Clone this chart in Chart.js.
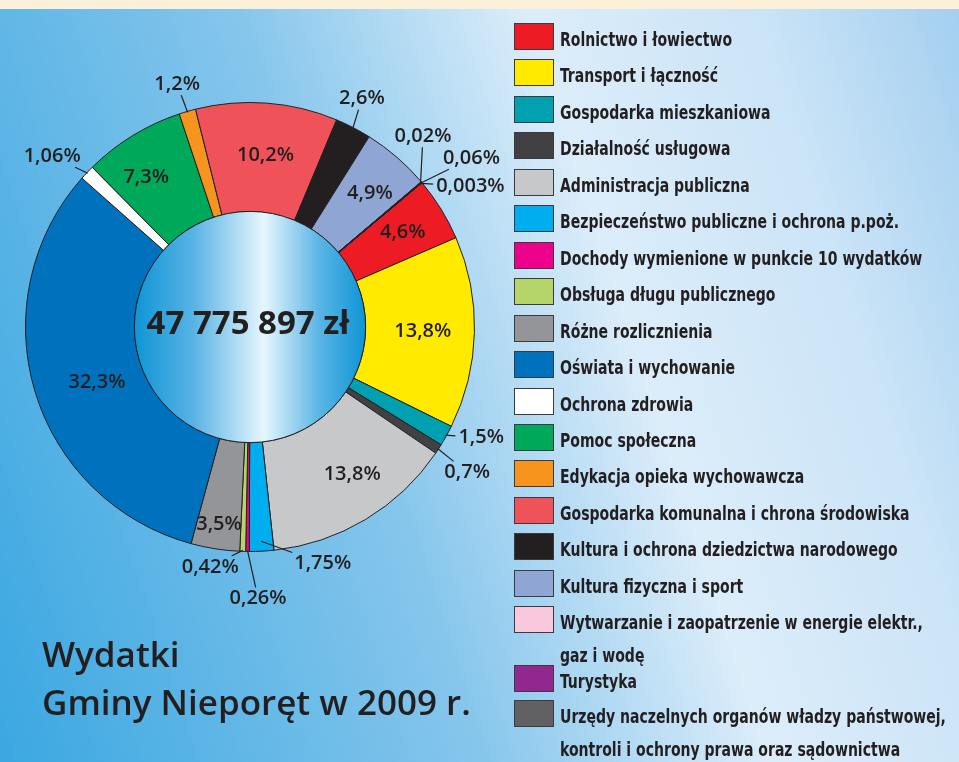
<!DOCTYPE html>
<html lang="pl">
<head>
<meta charset="utf-8">
<script src="https://cdn.jsdelivr.net/npm/chart.js@4.4.1/dist/chart.umd.min.js"></script>
<style>
html, body { margin: 0; padding: 0; }
body {
    width: 959px; height: 762px; overflow: hidden; position: relative;
    background: linear-gradient(72deg, #3aa7e1 0%, #86c6ec 40%, #dcedfa 64%, #cbe4f7 83%, #a3cff0 100%);
}
#band { position: absolute; left: 0; top: 0; width: 959px; height: 9px; background: #fdf0d9; }
#ChartCanvas1 { position: absolute; left: 0; top: 0; }
#legend {
    position: absolute; left: 514px; top: 0;
    font-family: "DejaVu Sans Condensed", "DejaVu Sans", sans-serif;
    font-weight: bold; font-size: 20px; color: #231f20;
}
.item { position: absolute; left: 0; white-space: pre; }
.sw { position: absolute; left: 0; top: 0; width: 38px; height: 25px; border: 1.5px solid #3b3b3d; }
.tx { position: absolute; left: 46px; top: 0; line-height: 33px; transform: scaleX(0.78); transform-origin: 0 0; }
#title {
    position: absolute; left: 42px; top: 630px;
    font-family: "Open Sans", sans-serif; font-weight: 600; font-size: 35px; line-height: 48px; color: #231f20;
}
</style>
</head>
<body>
<div id="band"></div>
<canvas id="ChartCanvas1" width="959" height="762"></canvas>
<div id="legend"></div>
<div id="title">Wydatki<br>Gminy Nieporęt w 2009 r.</div>
<script>
// data (percent of spending)
const categories = [
    'Rolnictwo i łowiectwo',
    'Transport i łączność',
    'Gospodarka mieszkaniowa',
    'Działalność usługowa',
    'Administracja publiczna',
    'Bezpieczeństwo publiczne i ochrona p.poż.',
    'Dochody wymienione w punkcie 10 wydatków',
    'Obsługa długu publicznego',
    'Różne rozlicznienia',
    'Oświata i wychowanie',
    'Ochrona zdrowia',
    'Pomoc społeczna',
    'Edykacja opieka wychowawcza',
    'Gospodarka komunalna i chrona środowiska',
    'Kultura i ochrona dziedzictwa narodowego',
    'Kultura fizyczna i sport',
    'Wytwarzanie i zaopatrzenie w energie elektr.,\ngaz i wodę',
    'Turystyka',
    'Urzędy naczelnych organów władzy państwowej,\nkontroli i ochrony prawa oraz sądownictwa'
];
const shares = [4.6, 13.8, 1.5, 0.7, 13.8, 1.75, 0.26, 0.42, 3.5, 32.3, 1.06, 7.3, 1.2, 10.2, 2.6, 4.9, 0.02, 0.06, 0.003];
const totalAmount = 47775897;

const colors = [
    '#ed1c24', '#ffea00', '#00a0b0', '#414042', '#c7c8ca', '#00aeef', '#ec008c', '#b5d56a', '#939598',
    '#0071bc', '#ffffff', '#00a859', '#f7941d', '#ef5359', '#231f20', '#8fa5d3', '#f9c8dd', '#92278f', '#616163'
];

// label placement: inside (r < 1, fraction of outer radius at slice middle, da = angle nudge)
// or outside (a = degrees clockwise from top, r = fraction of outer radius)
const labelPlace = [
    { r: 0.80 }, { r: 0.77 }, { a: 115.6, r: 1.142 }, { a: 123.8, r: 1.164 }, { r: 0.80, da: -3.7 },
    { a: 162.9, r: 1.102, inset: 10 }, { a: 178.3, r: 1.209 }, { a: 189.4, r: 1.084 }, { r: 0.89 },
    { r: 0.725, da: -3.3 }, { a: 310.8, r: 1.164 }, { r: 0.81, da: -3.3 }, { a: 343.3, r: 1.129 }, { r: 0.77, da: 0.8 },
    { a: 26.1, r: 1.133 }, { r: 0.80, da: 1 }, { a: 42.2, r: 1.147 }, { a: 52.7, r: 1.24 }, { a: 57.5, r: 1.164 }
];

function pct(v) { return String(v).replace('.', ',') + '%'; }
function money(v) { return String(v).replace(/\B(?=(\d{3})+(?!\d))/g, ' ') + ' zł'; }

const ink = '#231f20';

const sliceLabels = {
    id: 'sliceLabels',
    afterDatasetsDraw(chart) {
        const ctx = chart.ctx;
        const arcs = chart.getDatasetMeta(0).data;
        const cx = arcs[0].x, cy = arcs[0].y;
        const R = arcs[0].outerRadius, r0 = arcs[0].innerRadius;

        // centre disc
        const g = ctx.createLinearGradient(cx - r0, 0, cx + r0, 0);
        g.addColorStop(0, '#0e95d6');
        g.addColorStop(0.25, '#56b2e4');
        g.addColorStop(0.56, '#e6f6fd');
        g.addColorStop(0.8, '#5ab5e5');
        g.addColorStop(1, '#0d94d5');
        ctx.save();
        ctx.beginPath();
        ctx.arc(cx, cy, r0, 0, Math.PI * 2);
        ctx.fillStyle = g;
        ctx.fill();
        ctx.lineWidth = 1;
        ctx.strokeStyle = ink;
        ctx.stroke();

        ctx.fillStyle = ink;
        ctx.textAlign = 'center';
        ctx.textBaseline = 'middle';
        ctx.font = '700 33px "Open Sans"';
        ctx.fillText(money(totalAmount), cx - 2, cy - 2);

        ctx.font = '600 20px "Open Sans"';
        ctx.lineWidth = 1.2;
        arcs.forEach((arc, i) => {
            const p = labelPlace[i];
            const text = pct(shares[i]);
            const mid = (arc.startAngle + arc.endAngle) / 2;
            if (p.r < 1) {
                const m = mid + (p.da || 0) * Math.PI / 180;
                ctx.fillText(text, cx + Math.cos(m) * p.r * R, cy + Math.sin(m) * p.r * R);
                return;
            }
            const a = (p.a - 90) * Math.PI / 180;
            const tx = cx + Math.cos(a) * p.r * R, ty = cy + Math.sin(a) * p.r * R;
            const sx = cx + Math.cos(mid) * (R - (p.inset || 1));
            const sy = cy + Math.sin(mid) * (R - (p.inset || 1));
            const hw = ctx.measureText(text).width / 2 + 3, hh = 11;
            const dx = sx - tx, dy = sy - ty;
            const t = Math.min(hw / Math.max(Math.abs(dx), 1e-6), hh / Math.max(Math.abs(dy), 1e-6));
            ctx.beginPath();
            ctx.moveTo(sx, sy);
            ctx.lineTo(tx + dx * t, ty + dy * t);
            ctx.strokeStyle = ink;
            ctx.stroke();
            ctx.fillText(text, tx, ty);
        });
        ctx.restore();
    }
};

Chart.defaults.devicePixelRatio = 1;

const chart = new Chart(document.getElementById('ChartCanvas1').getContext('2d'), {
    type: 'doughnut',
    data: {
        labels: categories,
        datasets: [{
            data: shares,
            backgroundColor: colors,
            borderColor: ink,
            borderWidth: 1,
            hoverOffset: 0
        }]
    },
    options: {
        responsive: false,
        animation: false,
        rotation: 50,
        cutout: '51.5%',
        layout: { padding: { left: 25, top: 102, right: 484, bottom: 210 } },
        plugins: {
            legend: { display: false },
            tooltip: { enabled: false }
        }
    },
    plugins: [sliceLabels]
});

// legend on the right
const legendBox = document.getElementById('legend');
let rowTop = 23;
categories.forEach((name, i) => {
    const item = document.createElement('div');
    item.className = 'item';
    item.style.top = rowTop + 'px';
    const sw = document.createElement('div');
    sw.className = 'sw';
    sw.style.background = colors[i];
    const tx = document.createElement('div');
    tx.className = 'tx';
    tx.textContent = name;
    item.appendChild(sw);
    item.appendChild(tx);
    legendBox.appendChild(item);
    const lines = name.split('\n').length;
    rowTop += (i >= 17 ? 35.5 : 36.45) + (lines - 1) * 22;
});
</script>
</body>
</html>
